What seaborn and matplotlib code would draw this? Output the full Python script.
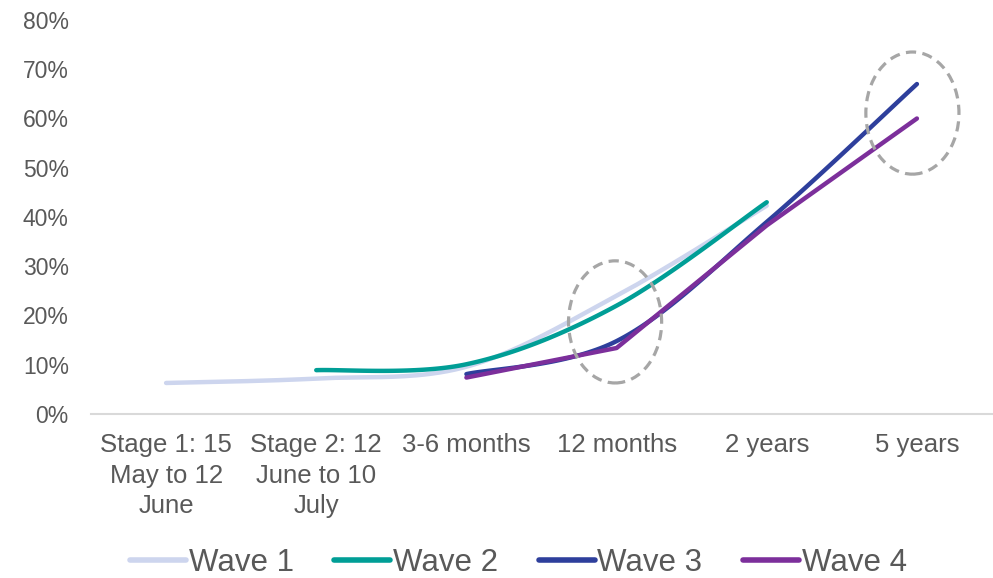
import numpy as np
import pandas as pd
import matplotlib
matplotlib.use("Agg")
import matplotlib.pyplot as plt
from matplotlib.patches import Ellipse
import seaborn as sns

# Survey waves: share of respondents expecting the change, by time horizon
categories = [
    "Stage 1: 15\nMay to 12\nJune",
    "Stage 2: 12\nJune to 10\nJuly",
    "3-6 months",
    "12 months",
    "2 years",
    "5 years",
]
wave_names = ["Wave 1", "Wave 2", "Wave 3", "Wave 4"]
wave1 = [6.3, 7.2, 9.6, 24.0, 42.3, np.nan]
wave2 = [np.nan, 8.9, 10.1, 22.0, 43.0, np.nan]
wave3 = [np.nan, np.nan, 8.1, 14.8, 39.0, 67.0]
wave4 = [np.nan, np.nan, 7.4, 13.4, 38.3, 60.0]
y_ticks = [0, 10, 20, 30, 40, 50, 60, 70, 80]

colors = ["#CDD5EE", "#009E96", "#2E3F9C", "#7C2F9B"]
smooth = [True, True, True, False]
text_color = "#595959"


def smooth_curve(xs, ys, steps=40):
    """Cardinal (Catmull-Rom style) Bezier curve through the points."""
    xs = np.asarray(xs, float)
    ys = np.asarray(ys, float)
    n = len(xs)
    out_x, out_y = [], []
    for i in range(n - 1):
        p0 = np.array([xs[max(i - 1, 0)], ys[max(i - 1, 0)]])
        p1 = np.array([xs[i], ys[i]])
        p2 = np.array([xs[i + 1], ys[i + 1]])
        p3 = np.array([xs[min(i + 2, n - 1)], ys[min(i + 2, n - 1)]])
        c1 = p1 + (p2 - p0) / 6.0
        c2 = p2 - (p3 - p1) / 6.0
        t = np.linspace(0, 1, steps)[:, None]
        pts = ((1 - t) ** 3) * p1 + 3 * ((1 - t) ** 2) * t * c1 \
            + 3 * (1 - t) * t ** 2 * c2 + t ** 3 * p2
        if i > 0:
            pts = pts[1:]
        out_x.extend(pts[:, 0])
        out_y.extend(pts[:, 1])
    return np.array(out_x), np.array(out_y)


sns.set_theme(style="white")
plt.rcParams["font.family"] = ["Liberation Sans", "DejaVu Sans"]

fig = plt.figure(figsize=(9.93, 5.78), dpi=100)
ax = fig.add_axes([91 / 993, 164 / 578, 901 / 993, 394 / 578])

for name, vals, col, sm in zip(wave_names, [wave1, wave2, wave3, wave4], colors, smooth):
    idx = np.arange(len(categories))
    v = np.asarray(vals, float)
    keep = ~np.isnan(v)
    xs, ys = idx[keep], v[keep]
    if sm:
        xs, ys = smooth_curve(xs, ys)
    df = pd.DataFrame({"x": xs, "y": ys})
    sns.lineplot(data=df, x="x", y="y", ax=ax, color=col, linewidth=3.2,
                 sort=False, estimator=None, label=name,
                 solid_capstyle="round")

# Dashed callouts around the 12-month and 5-year readings
for cx, cy in [(2.99, 18.7), (4.97, 61.1)]:
    ax.add_patch(Ellipse((cx, cy), width=0.62, height=24.8, fill=False,
                         edgecolor="#A6A6A6", linewidth=2.3,
                         linestyle=(0, (3.2, 2.0)), zorder=5))

ax.set_xlim(-0.5, 5.5)
ax.set_ylim(0, 80)
ax.set_xticks(range(len(categories)))
ax.set_xticklabels(categories, fontsize=18.5, color=text_color, linespacing=1.32)
ax.set_yticks(y_ticks)
ax.set_yticklabels([f"{t}%" for t in y_ticks], fontsize=16.5, color=text_color)
ax.tick_params(axis="x", length=0, pad=14)
ax.tick_params(axis="y", length=0, pad=16)
ax.set_xlabel("")
ax.set_ylabel("")
for side in ["left", "right", "top"]:
    ax.spines[side].set_visible(False)
ax.spines["bottom"].set_color("#D9D9D9")
ax.spines["bottom"].set_linewidth(1.5)
ax.grid(False)

handles, labels = ax.get_legend_handles_labels()
ax.get_legend().remove()
leg = fig.legend(handles, labels, loc="center", bbox_to_anchor=(0.522, 0.026),
                 ncol=4, frameon=False, fontsize=22.5, handlelength=1.8,
                 handletextpad=0.08, columnspacing=1.3, labelcolor=text_color,
                 borderaxespad=0)
for line in leg.get_lines():
    line.set_linewidth(4)

fig.savefig("out.png", dpi=100)
